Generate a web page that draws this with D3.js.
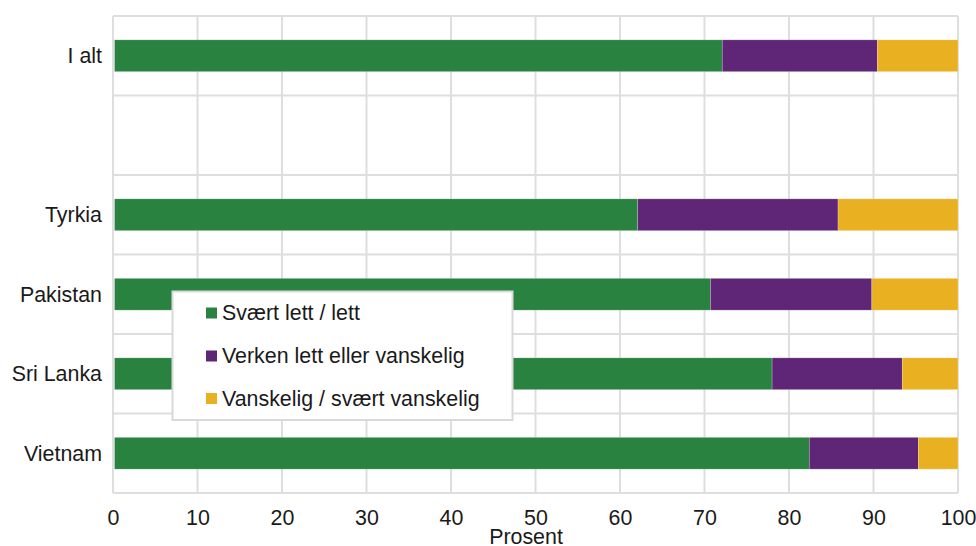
<!DOCTYPE html>
<html>
<head>
<meta charset="utf-8">
<script src="https://cdn.jsdelivr.net/npm/d3@7"></script>
<style>
  html, body { margin: 0; padding: 0; background: #fff; }
  svg { display: block; font-family: "Liberation Sans", Arial, sans-serif; }
</style>
</head>
<body>
<svg id="chart" width="976" height="546"></svg>
<script>
const categories = ["I alt", "", "Tyrkia", "Pakistan", "Sri Lanka", "Vietnam"];
const seriesNames = ["Svært lett / lett", "Verken lett eller vanskelig", "Vanskelig / svært vanskelig"];
const easy    = [72.1, null, 62.1, 70.7, 78.0, 82.4];
const neither = [18.35, null, 23.7, 19.1, 15.4, 12.9];
const hard    = [9.55, null, 14.2, 10.2, 6.6, 4.7];
const xTicks = [0, 10, 20, 30, 40, 50, 60, 70, 80, 90, 100];
const colors = ["#2a8241", "#5f2677", "#e9b121"];
const xLabel = "Prosent";

const FS = 21.4;
const svg = d3.select("#chart");
const margin = { left: 113, right: 18, top: 16, bottom: 53 };
const W = 976, H = 546;
const x = d3.scaleLinear().domain([0, 100]).range([margin.left, W - margin.right]);
const keys = categories.map((c, i) => "k" + i);
const y = d3.scaleBand().domain(keys).range([margin.top, H - margin.bottom]).paddingInner(0).paddingOuter(0);
const barH = y.bandwidth() * 0.4;
const gridColor = "#dedede";

// vertical gridlines
svg.append("g").selectAll("line").data(xTicks).join("line")
  .attr("x1", d => x(d)).attr("x2", d => x(d))
  .attr("y1", margin.top).attr("y2", H - margin.bottom)
  .attr("stroke", gridColor).attr("stroke-width", 2);

// horizontal gridlines at band boundaries
const hb = keys.map(k => y(k)).concat([y(keys[keys.length - 1]) + y.bandwidth()]);
svg.append("g").selectAll("line").data(hb).join("line")
  .attr("x1", x(0)).attr("x2", x(100))
  .attr("y1", d => d).attr("y2", d => d)
  .attr("stroke", gridColor).attr("stroke-width", 2);

// stacked bars
const rows = categories.map((c, i) => ({ key: keys[i], vals: [easy[i], neither[i], hard[i]] }));
rows.forEach(r => {
  if (r.vals[0] == null) return;
  let acc = 0;
  r.vals.forEach((v, j) => {
    const x0 = Math.max(x(acc), x(0) + 1.5);
    svg.append("rect")
      .attr("x", x0)
      .attr("y", y(r.key) + (y.bandwidth() - barH) / 2)
      .attr("width", x(acc + v) - x0)
      .attr("height", barH)
      .attr("fill", colors[j])
      .attr("stroke", "rgba(255,255,255,0.35)")
      .attr("stroke-width", 0.6);
    acc += v;
  });
});

// category labels
svg.append("g").selectAll("text").data(categories).join("text")
  .attr("x", 102)
  .attr("y", (d, i) => y(keys[i]) + y.bandwidth() / 2)
  .attr("dy", "0.35em")
  .attr("text-anchor", "end")
  .attr("font-size", FS)
  .attr("fill", "#1a1a1a")
  .text(d => d);

// x axis tick labels
const xAxis = d3.axisBottom(x).tickValues(xTicks).tickSize(0).tickPadding(0).tickFormat(d3.format("d"));
const gx = svg.append("g").attr("transform", `translate(0,${H - margin.bottom})`).call(xAxis);
gx.select(".domain").remove();
gx.selectAll("text")
  .attr("font-size", FS)
  .attr("font-family", "Liberation Sans, Arial, sans-serif")
  .attr("fill", "#1a1a1a")
  .attr("y", 32).attr("dy", 0);

svg.append("text")
  .attr("x", 526).attr("y", 543.5)
  .attr("text-anchor", "middle")
  .attr("font-size", FS)
  .attr("fill", "#1a1a1a")
  .text(xLabel);

// legend
const lg = svg.append("g");
lg.append("rect")
  .attr("x", 172.5).attr("y", 291.5).attr("width", 340).attr("height", 128.5)
  .attr("fill", "#fff").attr("stroke", "#d9d9d9").attr("stroke-width", 2);
const ly = [313, 356, 398.5];
seriesNames.forEach((n, i) => {
  lg.append("rect").attr("x", 206).attr("y", ly[i] - 5.5).attr("width", 11).attr("height", 11).attr("fill", colors[i]);
  lg.append("text").attr("x", 222).attr("y", ly[i]).attr("dy", "0.35em")
    .attr("font-size", FS).attr("fill", "#1a1a1a").text(n);
});
</script>
</body>
</html>
